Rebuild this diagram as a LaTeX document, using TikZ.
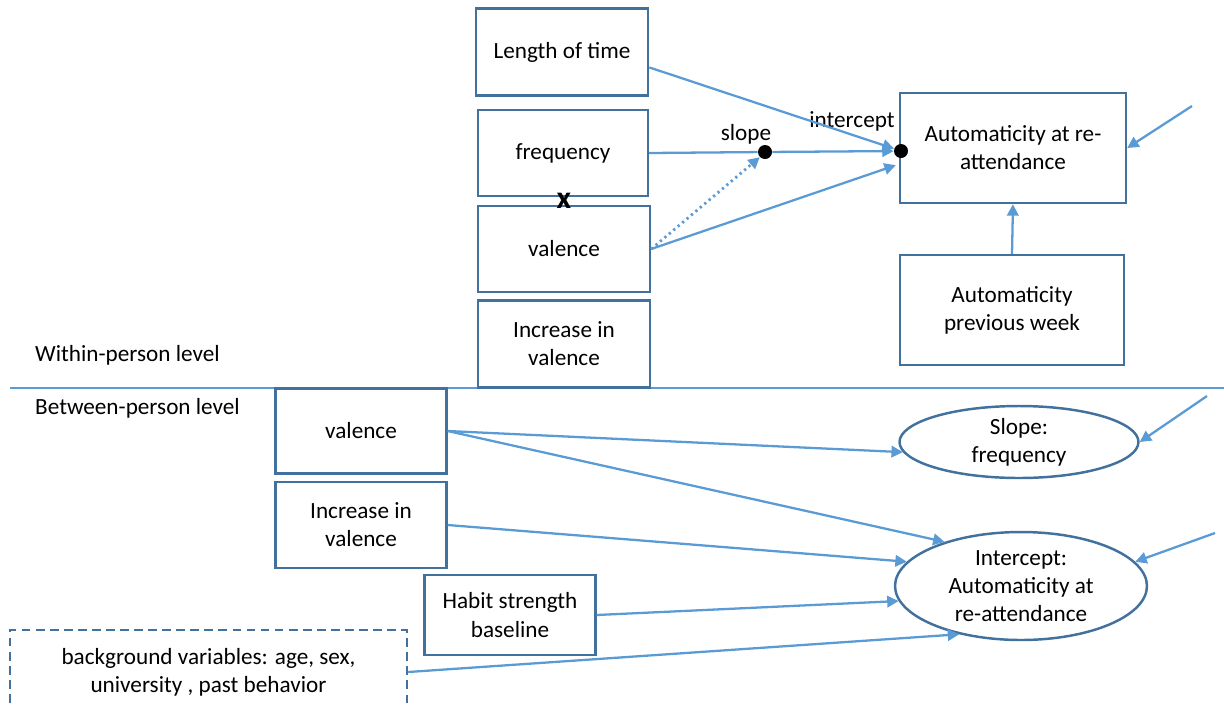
\documentclass[tikz,border=0pt]{standalone}
\usepackage{fontspec}
\setmainfont{Carlito}
\usetikzlibrary{arrows.meta,shapes.geometric}
\definecolor{boxblue}{RGB}{65,113,156}
\definecolor{arrblue}{RGB}{91,155,213}
\tikzset{
  box/.style={draw=boxblue, line width=1.4pt, fill=white, align=center, inner sep=2pt},
  oval/.style={ellipse, draw=boxblue, line width=1.4pt, fill=white, align=center, inner sep=0pt},
  arr/.style={draw=arrblue, line width=1.3pt, -{Triangle[length=6.5pt,width=6.5pt]}},
  dot/.style={circle, fill=black, inner sep=0pt, minimum size=0.28cm}
}
\begin{document}
\begin{tikzpicture}[x=0.02cm, y=-0.02cm, font=\fontsize{13.2}{16}\selectfont]
\useasboundingbox (0,0) rectangle (1224,704);

\coordinate (sepL) at (10,388);
\coordinate (sepR) at (1224,388);
\draw[arrblue, line width=1.3pt] (sepL) -- (sepR);

\node[anchor=west] (within) at (29,355) {Within-person level};
\node[anchor=west] (between) at (29,408) {Between-person level};

% within-person level
\node[box, minimum width=3.44cm, minimum height=1.74cm] (lengthtime) at (562,52) {Length of time};
\node[box, minimum width=3.4cm, minimum height=1.72cm] (freq) at (563,153) {frequency};
\node[box, minimum width=3.44cm, minimum height=1.72cm] (valw) at (564,249) {valence};
\node[box, minimum width=3.44cm, minimum height=1.74cm] (incw) at (564,344) {Increase in\\valence};
\node[font=\fontsize{18}{18}\bfseries\selectfont] (times) at (564,201) {x};

\node[box, minimum width=4.52cm, minimum height=2.2cm] (autore) at (1013,148) {Automaticity at re-\\attendance};
\node[box, minimum width=4.48cm, minimum height=2.2cm] (autoprev) at (1012,310) {Automaticity\\previous week};

\node[dot] (slopedot) at (765,152) {};
\node[dot] (intdot) at (901,151) {};
\node (slopelbl) at (746,134) {slope};
\node (intlbl) at (852,121) {intercept};

\draw[arr] (lengthtime.-10) -- (intdot);
\draw[draw=arrblue, line width=1.3pt] (freq.east) -- (slopedot);
\draw[arr] (slopedot) -- (intdot);
\draw[arr, dotted, line width=1.6pt] (valw.east) -- (slopedot.south west);
\draw[arr] (valw.east) -- ([yshift=-0.18cm]intdot.south west);
\draw[arr] (autoprev.north) -- (autore.south);

\coordinate (inA) at (1192,106);
\draw[arr] (inA) -- (autore.east);

% between-person level
\node[box, minimum width=3.42cm, minimum height=1.7cm] (valb) at (361,431) {valence};
\node[box, minimum width=3.42cm, minimum height=1.72cm] (incb) at (361,525) {Increase in\\valence};
\node[box, minimum width=3.42cm, minimum height=1.6cm] (habit) at (510,615) {Habit strength\\baseline};
\node[box, dash pattern=on 5pt off 3pt, minimum width=7.94cm, minimum height=1.68cm] (backgr) at (208.5,672) {background variables: age, sex,\\university , past behavior};

\node[oval, minimum width=4.78cm, minimum height=1.44cm] (slopeell) at (1019,442) {Slope:\\frequency};
\node[oval, minimum width=5.04cm, minimum height=2.16cm] (interell) at (1021,586) {Intercept:\\Automaticity at\\re-attendance};

\draw[arr] (valb.east) -- (slopeell.185);
\draw[arr] (valb.east) -- (interell.150);
\draw[arr] (incb.east) -- (interell.168);
\draw[arr] (habit.east) -- (interell.187);
\draw[arr] (backgr.east) -- (interell.218);

\coordinate (inB) at (1207,396);
\coordinate (inC) at (1215,533);
\draw[arr] (inB) -- (slopeell.east);
\draw[arr] (inC) -- (interell.12);
\end{tikzpicture}
\end{document}
